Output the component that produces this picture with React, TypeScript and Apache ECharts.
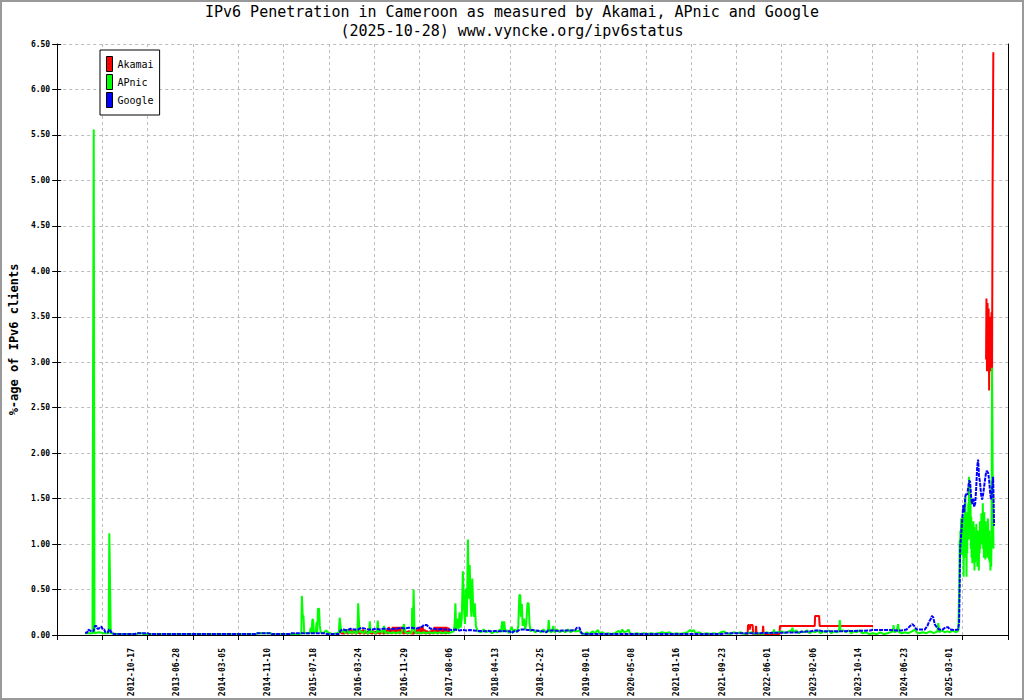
import { useEffect, useRef } from "react";
import * as echarts from "echarts";

const MONO = "'DejaVu Sans Mono', 'Liberation Mono', monospace";

const TITLE = "IPv6 Penetration in Cameroon as measured by Akamai, APnic and Google";
const SUBTITLE = "(2025-10-28) www.vyncke.org/ipv6status";

// x = day index since the start of the axis
const X_MAX = 5250;
const X_STEP = 250;
const Y_MAX = 6.5;
const Y_STEP = 0.5;

const TICK_LABELS = [
  "2012-10-17", "2013-06-28", "2014-03-05", "2014-11-10", "2015-07-18",
  "2016-03-24", "2016-11-29", "2017-08-06", "2018-04-13", "2018-12-25",
  "2019-09-01", "2020-05-08", "2021-01-16", "2021-09-23", "2022-06-01",
  "2023-02-06", "2023-10-14", "2024-06-23", "2025-03-01",
];
const LABEL_START = 410;
const LABEL_STEP = 251;

type Pt = [number, number | null];

const AKAMAI: Pt[] = [
  [1561, 0.02], [1567, 0.06], [1572, 0.01], [1578, 0.05], [1583, 0.01], [1589, 0.04],
  [1594, 0.02], [1600, 0.06], [1605, 0.01], [1611, 0.05], [1616, 0.02], [1622, 0.06],
  [1627, 0.01], [1633, 0.05], [1638, 0.02], [1644, 0.06], [1649, 0.01], [1655, 0.04],
  [1660, 0.02], [1666, 0.06], [1671, 0.01], [1677, 0.05], [1682, 0.02], [1688, 0.06],
  [1693, 0.01], [1699, 0.05], [1704, 0.02], [1710, 0.04], [1715, 0.01], [1721, 0.05],
  [1726, 0.02], [1732, 0.04], [1737, 0.01], [1743, 0.05], [1748, 0.02], [1754, 0.04],
  [1759, 0.01], [1765, 0.05], [1770, 0.02], [1776, 0.04], [1781, 0.01], [1787, 0.05],
  [1792, 0.02], [1798, 0.04], [1803, 0.01], [1809, 0.05], [1814, 0.02], [1820, 0.06],
  [1825, 0.01], [1831, 0.09], [1836, 0.02], [1842, 0.07], [1847, 0.01], [1853, 0.09],
  [1858, 0.02], [1864, 0.09], [1869, 0.01], [1875, 0.09], [1880, 0.02], [1886, 0.09],
  [1891, 0.01], [1897, 0.09], [1902, 0.02], [1908, 0.07], [1913, 0.01], [1919, 0.05],
  [1924, 0.02], [1930, 0.04], [1935, 0.01], [1941, 0.05], [1946, 0.02], [1952, 0.04],
  [1957, 0.01], [1963, 0.03], [1968, 0.01], [1974, 0.05], [1979, 0.02], [1985, 0.06],
  [1990, 0.01], [1996, 0.09], [2001, 0.02], [2007, 0.09], [2012, 0.01], [2018, 0.09],
  [2023, 0.02], [2029, 0.06], [2034, 0.01], [2040, 0.05], [2045, 0.02], [2051, 0.04],
  [2056, 0.01], [2062, 0.05], [2067, 0.02], [2073, 0.06], [2078, 0.01], [2084, 0.09],
  [2089, 0.02], [2094, 0.09], [2100, 0.01], [2105, 0.09], [2111, 0.02], [2116, 0.09],
  [2122, 0.01], [2128, 0.09], [2133, 0.02], [2139, 0.09], [2144, 0.01], [2150, 0.09],
  [2155, 0.02], [2161, 0.08], [2166, 0.02],
  [2170, null],
  [3790, 0.01], [3812, 0.01], [3815, 0.11], [3821, 0.11], [3824, 0.06], [3828, 0.11],
  [3840, 0.11], [3843, 0.01], [3856, 0.01], [3859, 0.10], [3862, 0.01], [3895, 0.01],
  [3898, 0.10], [3901, 0.01], [3940, 0.01], [3988, 0.01], [3991, 0.10], [4183, 0.10],
  [4185, 0.21], [4207, 0.21], [4210, 0.10], [4505, 0.10],
  [4510, null],
  [5129, 3.03], [5131, 3.70], [5134, 2.90], [5137, 3.65], [5140, 2.90], [5143, 3.59],
  [5146, 2.69], [5148, 3.50], [5151, 2.90], [5154, 3.50], [5157, 2.90], [5159, 3.55],
  [5162, 2.90], [5165, 4.95], [5169, 6.41],
];

const APNIC: Pt[] = [
  [154, 0.02], [175, 0.02], [195, 0.02], [198, 2.78], [202, 5.56], [206, 0.02],
  [230, 0.03], [260, 0.02], [284, 0.02], [288, 1.12], [292, 0.57], [296, 0.02],
  [330, 0.01], [440, 0.01], [445, 0.02], [470, 0.02], [475, 0.01], [1100, 0.01],
  [1105, 0.02], [1180, 0.02], [1185, 0.01], [1340, 0.01],
  [1348, 0.02], [1351, 0.43], [1356, 0.21], [1360, 0.21], [1364, 0.02], [1395, 0.02],
  [1400, 0.08], [1405, 0.02], [1409, 0.17], [1413, 0.17], [1417, 0.03], [1428, 0.03],
  [1432, 0.14], [1436, 0.03], [1440, 0.29], [1446, 0.29], [1450, 0.10], [1455, 0.03],
  [1470, 0.02], [1485, 0.05], [1495, 0.03], [1520, 0.01], [1545, 0.02], [1555, 0.03],
  [1560, 0.19], [1565, 0.10], [1570, 0.03], [1580, 0.05], [1590, 0.02], [1600, 0.06],
  [1610, 0.02], [1620, 0.04], [1630, 0.02], [1640, 0.05], [1650, 0.02], [1658, 0.02],
  [1662, 0.35], [1667, 0.12], [1672, 0.03], [1682, 0.04], [1692, 0.02], [1702, 0.05],
  [1712, 0.02], [1722, 0.02], [1726, 0.15], [1731, 0.03], [1745, 0.04], [1755, 0.02],
  [1765, 0.03], [1770, 0.16], [1775, 0.03], [1785, 0.05], [1795, 0.02], [1805, 0.10],
  [1812, 0.02], [1825, 0.03], [1840, 0.02], [1855, 0.03], [1870, 0.02], [1885, 0.03],
  [1900, 0.02], [1915, 0.12], [1922, 0.03], [1935, 0.02], [1950, 0.03], [1958, 0.02],
  [1960, 0.30], [1964, 0.05], [1968, 0.50], [1973, 0.06], [1980, 0.02], [1995, 0.03],
  [2010, 0.02], [2025, 0.03], [2040, 0.02], [2055, 0.03], [2070, 0.02], [2085, 0.03],
  [2100, 0.02], [2115, 0.03], [2130, 0.02], [2145, 0.03], [2160, 0.02], [2175, 0.03],
  [2190, 0.04],
  [2195, 0.13], [2199, 0.35], [2203, 0.05], [2210, 0.18], [2216, 0.06], [2222, 0.25],
  [2228, 0.08], [2234, 0.18], [2240, 0.70], [2246, 0.30], [2252, 0.12], [2256, 0.51],
  [2262, 0.20], [2268, 1.05], [2273, 0.40], [2278, 0.77], [2283, 0.35], [2287, 0.20],
  [2292, 0.62], [2297, 0.30], [2302, 0.20], [2306, 0.35], [2312, 0.10], [2318, 0.06],
  [2325, 0.04], [2340, 0.03], [2355, 0.06], [2370, 0.03], [2385, 0.05], [2400, 0.02],
  [2415, 0.04], [2430, 0.03], [2445, 0.06], [2450, 0.03], [2457, 0.15], [2462, 0.03],
  [2468, 0.15], [2474, 0.04], [2485, 0.05], [2495, 0.02], [2510, 0.09], [2518, 0.03],
  [2528, 0.06], [2540, 0.03], [2546, 0.10], [2552, 0.44], [2557, 0.44], [2561, 0.20],
  [2566, 0.34], [2570, 0.10], [2578, 0.18], [2584, 0.06], [2590, 0.12], [2597, 0.35],
  [2603, 0.35], [2608, 0.13], [2613, 0.04],
  [2625, 0.06], [2640, 0.03], [2655, 0.05], [2670, 0.03], [2685, 0.06], [2700, 0.03],
  [2710, 0.04], [2714, 0.165], [2719, 0.04], [2730, 0.03], [2740, 0.10], [2745, 0.03],
  [2760, 0.06], [2775, 0.03], [2790, 0.05], [2805, 0.03], [2820, 0.06], [2835, 0.03],
  [2850, 0.05], [2865, 0.04], [2880, 0.05], [2895, 0.02],
  [2910, 0.01], [2925, 0.03], [2940, 0.01], [2955, 0.04], [2970, 0.02], [2985, 0.055],
  [2995, 0.02], [3010, 0.03], [3025, 0.01], [3040, 0.02], [3060, 0.01], [3080, 0.02],
  [3100, 0.045], [3110, 0.02], [3120, 0.06], [3130, 0.03], [3145, 0.04], [3155, 0.06],
  [3162, 0.02], [3180, 0.01], [3200, 0.02], [3220, 0.01], [3240, 0.02], [3260, 0.01],
  [3280, 0.02], [3300, 0.01], [3320, 0.02], [3340, 0.03], [3360, 0.02], [3380, 0.03],
  [3400, 0.01], [3420, 0.02], [3440, 0.01], [3460, 0.02], [3480, 0.03], [3495, 0.055],
  [3505, 0.04], [3515, 0.055], [3525, 0.02], [3545, 0.03], [3565, 0.01], [3585, 0.02],
  [3605, 0.01], [3625, 0.02], [3645, 0.01], [3665, 0.03], [3680, 0.04], [3695, 0.02],
  [3715, 0.01], [3735, 0.03], [3755, 0.02], [3775, 0.03], [3795, 0.01], [3815, 0.02],
  [3835, 0.03], [3855, 0.01], [3875, 0.02], [3895, 0.01], [3915, 0.03], [3935, 0.02],
  [3955, 0.03], [3958, 0.06], [3962, 0.02], [3980, 0.03], [4000, 0.04], [4020, 0.02],
  [4040, 0.04], [4056, 0.05], [4060, 0.08], [4064, 0.03], [4080, 0.05], [4095, 0.02],
  [4110, 0.04], [4125, 0.03], [4140, 0.05], [4155, 0.02], [4170, 0.04], [4185, 0.03],
  [4200, 0.05], [4215, 0.02], [4230, 0.04], [4245, 0.03], [4260, 0.05], [4275, 0.02],
  [4290, 0.04], [4305, 0.03], [4317, 0.04], [4321, 0.165], [4325, 0.04], [4340, 0.05],
  [4355, 0.03], [4370, 0.05], [4385, 0.02], [4400, 0.04], [4415, 0.03], [4430, 0.05],
  [4445, 0.02], [4465, 0.03], [4485, 0.01], [4505, 0.02], [4525, 0.01], [4545, 0.03],
  [4565, 0.01], [4585, 0.02], [4600, 0.03], [4614, 0.04], [4618, 0.11], [4622, 0.03],
  [4635, 0.04], [4643, 0.12], [4648, 0.03], [4665, 0.02], [4680, 0.03], [4700, 0.02],
  [4720, 0.04], [4735, 0.06], [4745, 0.03], [4760, 0.02], [4780, 0.03], [4800, 0.02],
  [4820, 0.04], [4840, 0.02], [4860, 0.04], [4865, 0.13], [4870, 0.03], [4885, 0.05],
  [4900, 0.03], [4915, 0.04], [4930, 0.03], [4945, 0.05], [4960, 0.03], [4970, 0.04],
  [4976, 0.05], [4979, 0.38], [4981, 0.55], [4983, 1.04], [4985, 0.78], [4987, 1.15],
  [4989, 0.90], [4991, 1.28], [4993, 0.95], [4995, 1.22], [4997, 0.88], [4999, 1.30],
  [5001, 0.95], [5003, 1.30], [5005, 0.64], [5007, 1.10], [5009, 0.85], [5011, 1.38],
  [5013, 0.95], [5015, 1.52], [5017, 1.00], [5019, 1.25], [5021, 0.64], [5023, 1.20],
  [5025, 0.90], [5027, 1.35], [5029, 1.05], [5031, 1.45], [5033, 1.05], [5035, 1.74],
  [5037, 1.20], [5039, 1.66], [5041, 1.20], [5043, 1.55], [5045, 0.95], [5047, 1.30],
  [5049, 0.85], [5051, 1.20], [5053, 0.79], [5055, 1.10], [5057, 0.92], [5059, 1.25],
  [5061, 0.85], [5063, 1.19], [5065, 0.71], [5067, 1.05], [5069, 0.80], [5071, 1.12],
  [5073, 0.86], [5075, 1.22], [5077, 0.95], [5079, 1.10], [5081, 0.75], [5083, 1.15],
  [5085, 0.80], [5087, 1.05], [5089, 0.71], [5091, 1.12], [5093, 0.90], [5095, 1.25],
  [5097, 0.95], [5099, 1.20], [5101, 1.00], [5103, 1.34], [5105, 1.00], [5107, 1.30],
  [5109, 1.05], [5111, 1.45], [5113, 0.95], [5115, 1.25], [5117, 0.85], [5119, 1.35],
  [5121, 0.95], [5123, 1.19], [5125, 0.83], [5127, 1.25], [5129, 0.95], [5131, 1.15],
  [5133, 0.90], [5135, 1.19], [5137, 0.85], [5139, 1.28], [5141, 1.05], [5143, 1.15],
  [5145, 0.83], [5147, 1.15], [5149, 0.80], [5151, 0.95], [5153, 0.71], [5155, 1.05],
  [5157, 0.75], [5159, 1.00], [5162, 2.94], [5166, 1.60], [5170, 0.95],
];

const GOOGLE: Pt[] = [
  [154, 0.025], [165, 0.025], [172, 0.06], [180, 0.05], [190, 0.04], [200, 0.04],
  [208, 0.10], [216, 0.10], [222, 0.07], [230, 0.07], [238, 0.09], [245, 0.09],
  [252, 0.06], [260, 0.06], [266, 0.03], [280, 0.03], [287, 0.06], [292, 0.06],
  [298, 0.03], [305, 0.03], [312, 0.01], [430, 0.01], [440, 0.02], [500, 0.02],
  [510, 0.01], [1095, 0.01], [1100, 0.02], [1180, 0.02], [1185, 0.01], [1285, 0.01],
  [1290, 0.02], [1480, 0.02], [1490, 0.01], [1555, 0.01], [1565, 0.05], [1580, 0.06],
  [1600, 0.05], [1620, 0.07], [1640, 0.06], [1660, 0.06], [1680, 0.08], [1700, 0.07],
  [1720, 0.06], [1740, 0.06], [1760, 0.07], [1780, 0.06], [1800, 0.07], [1820, 0.07],
  [1840, 0.06], [1860, 0.07], [1880, 0.07], [1900, 0.08], [1920, 0.07], [1940, 0.08],
  [1960, 0.08], [1980, 0.07], [2000, 0.08], [2015, 0.09], [2025, 0.11], [2040, 0.11],
  [2050, 0.09], [2060, 0.07], [2080, 0.07], [2100, 0.06], [2120, 0.065], [2140, 0.06],
  [2160, 0.06], [2180, 0.055], [2200, 0.06], [2220, 0.05], [2240, 0.055], [2260, 0.05],
  [2280, 0.055], [2300, 0.05], [2320, 0.045], [2340, 0.045], [2360, 0.04], [2380, 0.045],
  [2400, 0.04], [2420, 0.045], [2440, 0.04], [2460, 0.045], [2480, 0.04], [2500, 0.04],
  [2510, 0.02], [2520, 0.04], [2540, 0.04], [2555, 0.06], [2580, 0.06], [2600, 0.055],
  [2620, 0.055], [2640, 0.05], [2660, 0.045], [2680, 0.04], [2700, 0.03], [2710, 0.05],
  [2740, 0.05], [2770, 0.045], [2800, 0.05], [2830, 0.05], [2860, 0.055], [2870, 0.08],
  [2884, 0.08], [2895, 0.02], [2910, 0.01], [3660, 0.01], [3680, 0.015], [3700, 0.02],
  [3780, 0.02], [3880, 0.02], [3990, 0.025], [4100, 0.03], [4110, 0.035], [4160, 0.04],
  [4180, 0.05], [4210, 0.05], [4225, 0.04], [4300, 0.04], [4400, 0.045], [4490, 0.05],
  [4500, 0.055], [4600, 0.055], [4640, 0.05], [4660, 0.05], [4690, 0.06], [4710, 0.10],
  [4722, 0.12], [4732, 0.10], [4745, 0.06], [4770, 0.06], [4790, 0.06], [4805, 0.10],
  [4815, 0.15], [4822, 0.17], [4830, 0.21], [4838, 0.19], [4845, 0.12], [4855, 0.09],
  [4870, 0.06], [4890, 0.06], [4904, 0.085], [4920, 0.085], [4930, 0.06], [4955, 0.055],
  [4975, 0.06], [4980, 0.14], [4983, 0.50], [4986, 0.96], [4992, 1.12], [4997, 1.26],
  [5003, 1.43], [5008, 1.35], [5014, 1.52], [5019, 1.56], [5025, 1.54], [5030, 1.62],
  [5036, 1.70], [5041, 1.68], [5047, 1.50], [5052, 1.44], [5058, 1.50], [5063, 1.41],
  [5069, 1.45], [5074, 1.60], [5080, 1.85], [5085, 1.93], [5090, 1.75], [5096, 1.67],
  [5101, 1.55], [5107, 1.49], [5113, 1.55], [5118, 1.63], [5124, 1.72], [5130, 1.80],
  [5135, 1.80], [5141, 1.78], [5146, 1.70], [5152, 1.55], [5157, 1.49], [5162, 1.60],
  [5168, 1.74], [5173, 1.20],
];

const GRID_LINE = { color: "#bdbdbd", type: [3, 3], width: 1 };
const TITLE_STYLE = {
  fontFamily: MONO,
  fontSize: 15,
  fontWeight: "normal",
  color: "#000",
};

const App = () => {
  const chartRef = useRef<HTMLDivElement>(null);

  useEffect(() => {
    if (!chartRef.current) return;
    const chart = echarts.init(chartRef.current, null, { renderer: "svg" });
    const labelPos = TICK_LABELS.map((_, i) => LABEL_START + i * LABEL_STEP);
    const labelAt = new Map(labelPos.map((p, i) => [p, TICK_LABELS[i]]));

    const lineSeries = (name: string, color: string, data: Pt[], dash?: number[]) => ({
      name,
      type: "line",
      data,
      color,
      showSymbol: false,
      symbol: "none",
      silent: true,
      connectNulls: false,
      lineStyle: { color, width: 2, type: dash ?? "solid" },
    });

    chart.setOption({
      animation: false,
      backgroundColor: "#fff",
      textStyle: { fontFamily: MONO },
      title: [
        { text: TITLE, left: "center", top: 4, padding: 0, textStyle: TITLE_STYLE },
        { text: SUBTITLE, left: "center", top: 23, padding: 0, textStyle: TITLE_STYLE },
      ],
      legend: {
        orient: "vertical",
        left: 100,
        top: 50,
        padding: [6, 6, 7, 6],
        itemGap: 2,
        itemWidth: 6,
        itemHeight: 15,
        icon: "rect",
        backgroundColor: "#fff",
        borderColor: "#000",
        borderWidth: 1,
        borderRadius: 0,
        itemStyle: { borderColor: "#000", borderWidth: 1 },
        textStyle: { fontFamily: MONO, fontSize: 10, color: "#000" },
        data: ["Akamai", "APnic", "Google"],
      },
      grid: { left: 53, right: 16, top: 44, bottom: 65 },
      xAxis: [
        {
          type: "value",
          min: 0,
          max: X_MAX,
          interval: X_STEP,
          axisLine: { show: true, lineStyle: { color: "#000", width: 1 } },
          axisTick: { show: true, length: 5, lineStyle: { color: "#000" } },
          axisLabel: { show: false },
          splitLine: { show: true, lineStyle: GRID_LINE },
        },
        {
          type: "value",
          min: 0,
          max: X_MAX,
          position: "bottom",
          axisLine: { show: false },
          axisTick: { show: false },
          splitLine: { show: false },
          axisLabel: {
            customValues: labelPos,
            rotate: 90,
            margin: 13,
            fontSize: 8,
            fontWeight: "bold",
            fontFamily: MONO,
            color: "#000",
            formatter: (v: number) => labelAt.get(v) ?? "",
          },
        },
      ],
      yAxis: [
        {
          type: "value",
          min: 0,
          max: Y_MAX,
          interval: Y_STEP,
          position: "left",
          name: "%-age of IPv6 clients",
          nameLocation: "middle",
          nameGap: 35,
          nameRotate: 90,
          nameTextStyle: {
            fontFamily: MONO,
            fontSize: 12,
            fontWeight: "bold",
            color: "#000",
          },
          axisLine: { show: true, lineStyle: { color: "#000", width: 1 } },
          axisTick: { show: true, length: 5, lineStyle: { color: "#000" } },
          axisLabel: {
            formatter: (v: number) => v.toFixed(2),
            fontSize: 8,
            fontWeight: "bold",
            fontFamily: MONO,
            color: "#000",
            margin: 7,
          },
          splitLine: { show: true, lineStyle: GRID_LINE },
        },
        {
          type: "value",
          min: 0,
          max: Y_MAX,
          interval: Y_STEP,
          position: "right",
          axisLine: { show: true, onZero: false, lineStyle: { color: "#000", width: 1 } },
          axisTick: { show: false },
          axisLabel: { show: false },
          splitLine: { show: false },
        },
        {
          type: "value",
          min: 0,
          max: Y_MAX,
          interval: Y_STEP,
          position: "left",
          axisLine: { show: false },
          axisTick: { show: true, inside: true, length: 4, lineStyle: { color: "#000" } },
          axisLabel: { show: false },
          splitLine: { show: false },
        },
      ],
      graphic: [
        {
          type: "rect",
          z: 100,
          silent: true,
          shape: { x: 1, y: 1, width: 1022, height: 698 },
          style: { fill: "none", stroke: "#999", lineWidth: 2 },
        },
      ],
      series: [
        lineSeries("Akamai", "#ff0000", AKAMAI),
        lineSeries("APnic", "#00ff00", APNIC),
        lineSeries("Google", "#0000ff", GOOGLE, [4, 1]),
      ],
    });

    return () => {
      chart.dispose();
    };
  }, []);

  return (
    <div
      ref={chartRef}
      style={{ position: "absolute", left: 0, top: 0, width: "1024px", height: "700px" }}
    ></div>
  );
};

export default App;
